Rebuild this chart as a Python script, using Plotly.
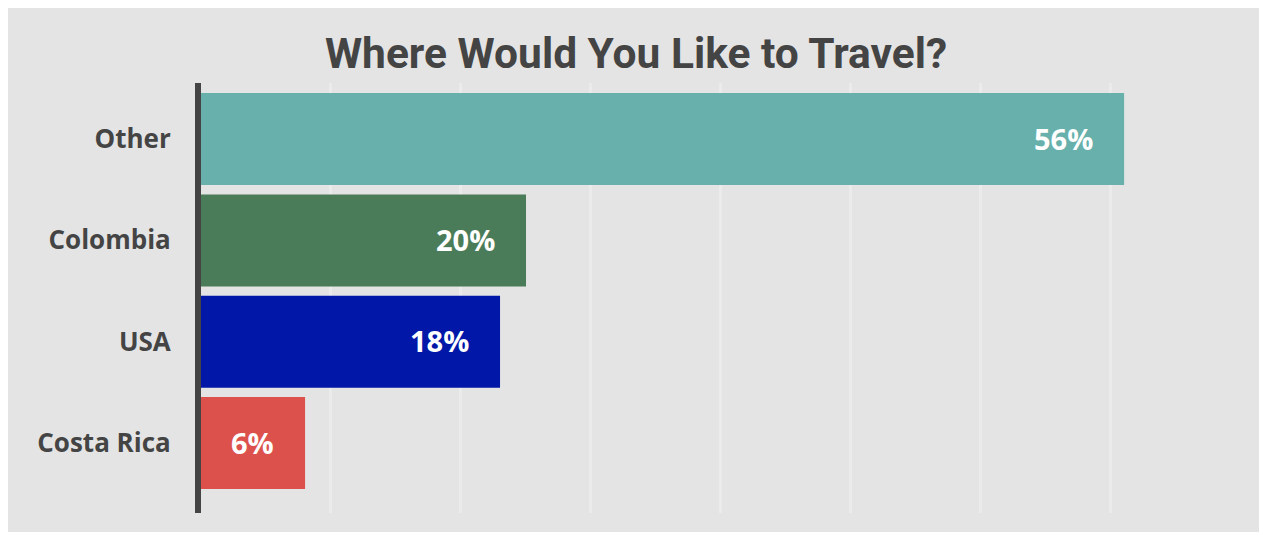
import plotly.graph_objects as go

categories = ["Other", "Colombia", "USA", "Costa Rica"]
values = [56.86, 20.02, 18.42, 6.41]
value_labels = ["56%", "20%", "18%", "6%"]
colors = ["#67b0ac", "#4a7c59", "#0017a8", "#dd514c"]

fig = go.Figure()
fig.add_trace(go.Bar(
    x=values,
    y=categories,
    orientation="h",
    marker=dict(color=colors, line=dict(width=0)),
    hoverinfo="skip",
))

for v, c, lab in zip(values, categories, value_labels):
    fig.add_annotation(
        x=v, y=c, xref="x", yref="y",
        text=lab, showarrow=False,
        xanchor="right", yanchor="middle", xshift=-29, yshift=1,
        font=dict(family="Open Sans", size=29, color="white", weight=700),
    )

W, H = 1256, 524
fig.update_layout(
    width=W, height=H,
    paper_bgcolor="#e4e4e4",
    plot_bgcolor="#e4e4e4",
    margin=dict(l=193, r=24, t=75, b=19),
    bargap=0.092,
    showlegend=False,
    title=dict(
        text="Where Would You Like to Travel?",
        x=0.5, xanchor="center", xref="container",
        y=1 - 45 / H, yanchor="middle", yref="container",
        font=dict(family="Roboto", size=42.5, color="#444444", weight=700),
    ),
    xaxis=dict(
        range=[0, 64], dtick=8, tick0=0,
        showticklabels=False, showgrid=True,
        gridcolor="#ebebeb", gridwidth=3,
        zeroline=False, showline=False, ticks="",
    ),
    yaxis=dict(
        range=[3.69, -0.553],
        showline=True, linecolor="#444444", linewidth=6,
        showgrid=False, zeroline=False,
        ticks="", ticklabelstandoff=19,
        tickfont=dict(family="Open Sans", size=26, color="#444444", weight=700),
    ),
)

fig.write_html("out.html")
